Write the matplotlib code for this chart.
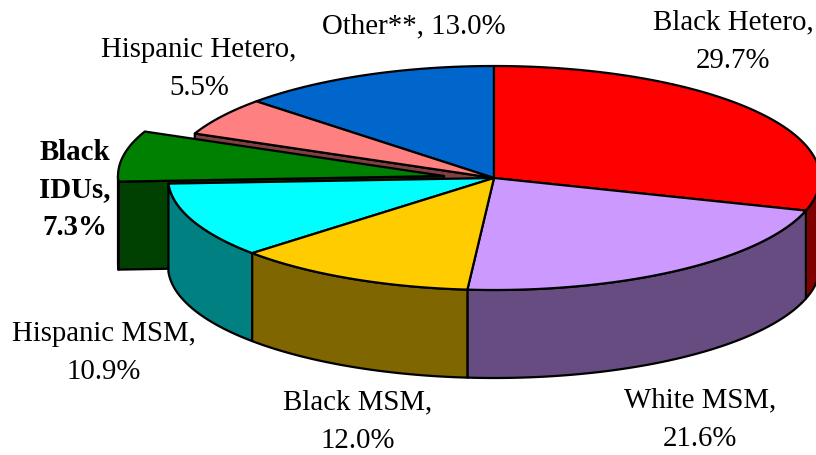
import numpy as np
import matplotlib
matplotlib.use('Agg')
import matplotlib.pyplot as plt

plt.rcParams['font.family'] = ['Liberation Serif', 'DejaVu Serif']

# clockwise from 12 o'clock
groups = ['Black Hetero', 'White MSM', 'Black MSM', 'Hispanic MSM',
          'Black IDUs', 'Hispanic Hetero', 'Other**']
shares = [29.7, 21.6, 12.0, 10.9, 7.3, 5.5, 13.0]
top_colors = ['#FF0000', '#CC99FF', '#FFCC00', '#00FFFF',
              '#008000', '#FF8080', '#0066CC']
side_colors = ['#800000', '#664C80', '#806600', '#008080',
               '#004000', '#804040', '#003366']
exploded = 'Black IDUs'

# pie geometry in pixels
cx, cy = 494, 179
rx, ry = 326, 112
depth = 88
shift = (-50, -2)
lw = 1.6


def rim(a, dx=0, dy=0, drop=0):
    a = np.radians(a)
    return cx + dx + rx * np.sin(a), cy + dy - ry * np.cos(a) + drop


def arc(a0, a1, dx=0, dy=0, drop=0):
    n = max(int(abs(a1 - a0)) * 2, 2)
    return rim(np.linspace(a0, a1, n), dx, dy, drop)


def poly(ax, x, y, color):
    ax.fill(x, y, facecolor=color, edgecolor='black', linewidth=lw, joinstyle='round')


def top(ax, a0, a1, color, dx=0, dy=0):
    x, y = arc(a0, a1, dx, dy)
    poly(ax, np.r_[cx + dx, x], np.r_[cy + dy, y], color)


def outer_wall(ax, a0, a1, color, dx=0, dy=0):
    # only the part of the rim that faces the viewer
    a0, a1 = max(a0, 90), min(a1, 270)
    if a1 <= a0:
        return
    x, y = arc(a0, a1, dx, dy)
    xb, yb = arc(a1, a0, dx, dy, depth)
    poly(ax, np.r_[x, xb], np.r_[y, yb], color)


def inner_wall(ax, a, color, dx=0, dy=0):
    x, y = rim(a, dx, dy)
    xb, yb = rim(a, dx, dy, depth)
    poly(ax, [cx + dx, x, xb, cx + dx], [cy + dy, y, yb, cy + dy + depth], color)


fig = plt.figure(figsize=(8.16, 4.56), dpi=100)
ax = fig.add_axes([0, 0, 1, 1])
ax.set_xlim(0, 816)
ax.set_ylim(456, 0)
ax.axis('off')

ends = np.cumsum(shares) * 3.6
starts = np.r_[0, ends[:-1]]
k = groups.index(exploded)

# wall of the gap left by the pulled out slice, then the slice itself
inner_wall(ax, ends[k], side_colors[k + 1])
inner_wall(ax, starts[k], side_colors[k], *shift)
outer_wall(ax, starts[k], ends[k], side_colors[k], *shift)
top(ax, starts[k], ends[k], top_colors[k], *shift)

for i in [6, 5, 0, 1, 3, 2]:
    outer_wall(ax, starts[i], ends[i], side_colors[i])
for i in [6, 5, 0, 1, 3, 2]:
    top(ax, starts[i], ends[i], top_colors[i])

fs = 20.8
ls = 1.62
ax.text(414, 26, 'Other**, 13.0%', fontsize=fs, ha='center', va='center')
ax.text(733, 42, 'Black Hetero,\n29.7%', fontsize=fs, ha='center', va='center', linespacing=ls)
ax.text(199, 69, 'Hispanic Hetero,\n5.5%', fontsize=fs, ha='center', va='center', linespacing=ls)
ax.text(75, 190, 'Black\nIDUs,\n7.3%', fontsize=fs, fontweight='bold', ha='center', va='center', multialignment='center', linespacing=1.5)
ax.text(104, 353, 'Hispanic MSM,\n10.9%', fontsize=fs, ha='center', va='center', linespacing=ls)
ax.text(358, 422, 'Black MSM,\n12.0%', fontsize=fs, ha='center', va='center', linespacing=ls)
ax.text(700, 420, 'White MSM,\n21.6%', fontsize=fs, ha='center', va='center', linespacing=ls)

fig.savefig('out.png', dpi=100, facecolor='white')
